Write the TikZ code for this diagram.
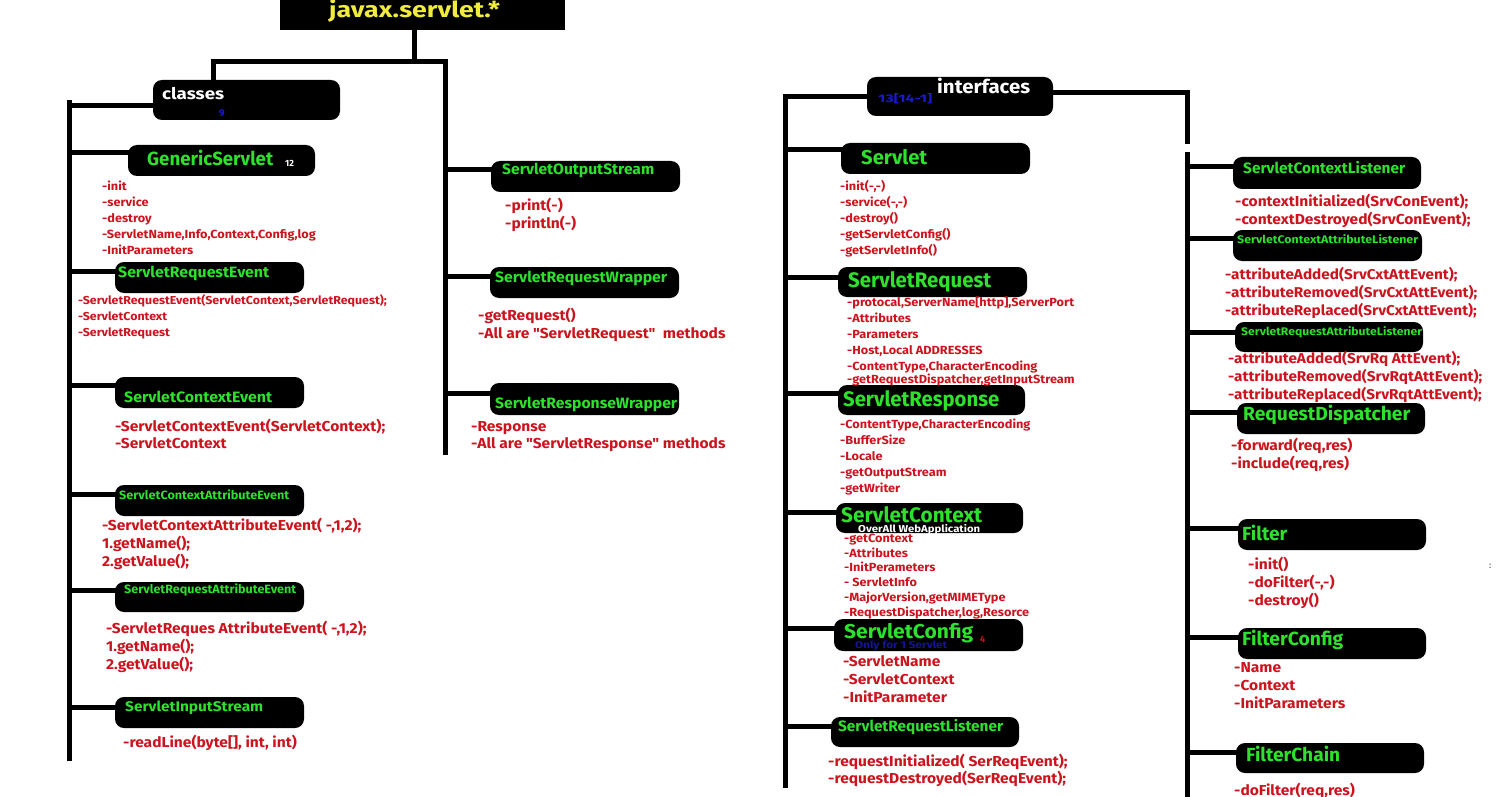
\documentclass[tikz,border=0pt]{standalone}
\usepackage{fontspec}
\setmainfont{Fira Sans}
\newfontfamily\mfont{Fira Sans}[FakeStretch=1.08]
\usetikzlibrary{fit}
\definecolor{mred}{RGB}{203,20,30}
\definecolor{mgreen}{RGB}{45,225,45}
\definecolor{myellow}{RGB}{240,235,60}
\definecolor{mblue}{RGB}{25,25,205}
\definecolor{mnavy}{RGB}{20,20,150}
\newcommand\lw[2]{\resizebox{#1pt}{\height}{#2}}
\tikzset{
  conn/.style={line width=5pt, black, line cap=rect},
  boxs/.style={fill=black, rounded corners=9pt, inner sep=0pt},
  lbl/.style={inner sep=0pt, anchor=base west, text=mgreen, font=\bfseries\fontsize{#1}{#1}\selectfont},
  mth/.style 2 args={inner sep=0pt, anchor=base west, align=left, text=mred, font=\mfont\bfseries\fontsize{#1}{#2}\selectfont},
}
\begin{document}
\begin{tikzpicture}[x=1pt,y=-1pt]
\fill[white] (0,0) rectangle (1500,797);
\useasboundingbox (0,0) rectangle (1500,797);

% ---------- boxes ----------
\node[fill=black, inner sep=0pt, fit={(280,0) (565,30)}] (jx) {};
\node[boxs, fit={(153,80) (340,120)}] (cls) {};
\node[boxs, fit={(128,145) (315,176)}] (gs) {};
\node[boxs, fit={(115,262) (304,293)}] (sre) {};
\node[boxs, fit={(115,377) (304,408)}] (sce) {};
\node[boxs, fit={(115,485) (304,516)}] (scae) {};
\node[boxs, fit={(115,582) (304,612)}] (srae) {};
\node[boxs, fit={(115,697) (304,728)}] (sis) {};
\node[boxs, fit={(491,161) (680,192)}] (sos) {};
\node[boxs, fit={(490,267) (679,298)}] (srw) {};
\node[boxs, fit={(490,383) (679,415)}] (srspw) {};
\node[boxs, fit={(867,77) (1053,116)}] (ifc) {};
\node[boxs, fit={(841,143) (1030,174)}] (svt) {};
\node[boxs, fit={(838,267) (1027,297)}] (sreq) {};
\node[boxs, fit={(838,385) (1025,415)}] (sresp) {};
\node[boxs, fit={(836,503) (1023,533)}] (sctx) {};
\node[boxs, fit={(834,619) (1023,651)}] (scfg) {};
\node[boxs, fit={(831,717) (1019,747)}] (srl) {};
\node[boxs, fit={(1233,157) (1421,189)}] (scl) {};
\node[boxs, fit={(1233,230) (1422,261)}] (scal) {};
\node[boxs, fit={(1235,322) (1423,352)}] (sral) {};
\node[boxs, fit={(1237,403) (1425,434)}] (rd) {};
\node[boxs, fit={(1238,519) (1426,550)}] (flt) {};
\node[boxs, fit={(1238,628) (1426,659)}] (fcfg) {};
\node[boxs, fit={(1236,743) (1424,773)}] (fch) {};

% ---------- trunk coordinates ----------
\coordinate (barL) at (213,62);
\coordinate (barR) at (445,62);
\coordinate (cT) at (69,103);
\coordinate (cB) at (69,758);
\coordinate (rB) at (445,452);
\coordinate (iT) at (785,97);
\coordinate (iB) at (785,785);
\coordinate (jT) at (1187,93);
\coordinate (jM) at (1187,142);
\coordinate (kT) at (1187,155);
\coordinate (kB) at (1187,797);

% ---------- connectors ----------
\draw[conn] (jx.south -| 414,0) -- (414,62);
\draw[conn] (barL) -- (barR) -- (rB);
\draw[conn] (barL) -- (barL |- cls.north);
\draw[conn] (cT) -- (cB);
\draw[conn] (69,106) -- (cls.west |- 0,106);
\foreach \n/\y in {gs/153, sre/271, sce/385, scae/494, srae/590, sis/707}
  \draw[conn] (69,\y) -- (\n.west |- 0,\y);
\foreach \n/\y in {sos/170, srw/276, srspw/393}
  \draw[conn] (445,\y) -- (\n.west |- 0,\y);
\draw[conn] (iT) -- (iB);
\draw[conn] (iT) -- (ifc.west |- iT);
\draw[conn] (ifc.east |- jT) -- (jT) -- (jM);
\draw[conn] (kT) -- (kB);
\foreach \n/\y in {svt/150, sreq/277, sresp/393, sctx/512, scfg/628, srl/726}
  \draw[conn] (785,\y) -- (\n.west |- 0,\y);
\foreach \n/\y in {scl/167, scal/238, sral/332, rd/412, flt/528, fcfg/637, fch/752}
  \draw[conn] (1187,\y) -- (\n.west |- 0,\y);

% ---------- box labels ----------
\node[lbl=22, text=myellow] (tjx) at (329,18) {\lw{171}{javax.servlet.*}};
\node[lbl=16, text=white] (tcls) at (162,100) {\lw{62}{classes}};
\node[lbl=10, text=mblue] (t9) at (219,117) {9};
\node[lbl=19] (tgs) at (147,165) {\lw{126}{GenericServlet}};
\node[lbl=9, text=white] (t12) at (285,167) {12};
\node[lbl=15] (tsre) at (118,277) {\lw{151}{ServletRequestEvent}};
\node[lbl=15] (tsce) at (124,402) {\lw{148}{ServletContextEvent}};
\node[lbl=12] (tscae) at (119,499) {\lw{170}{ServletContextAttributeEvent}};
\node[lbl=12] (tsrae) at (124,593) {\lw{172}{ServletRequestAttributeEvent}};
\node[lbl=14] (tsis) at (125,711) {\lw{138}{ServletInputStream}};
\node[lbl=15] (tsos) at (502,175) {\lw{152}{ServletOutputStream}};
\node[lbl=15] (tsrw) at (495,282) {\lw{172}{ServletRequestWrapper}};
\node[lbl=15] (tsrspw) at (495,408) {\lw{182}{ServletResponseWrapper}};
\node[lbl=19, text=white] (tifc) at (937,94) {\lw{93}{interfaces}};
\node[lbl=11, text=mblue] (t13) at (878,103) {\lw{54}{13[14-1]}};
\node[lbl=20] (tsvt) at (861,165) {\lw{66}{Servlet}};
\node[lbl=21] (tsreq) at (848,287) {\lw{143}{ServletRequest}};
\node[lbl=21] (tsresp) at (843,406) {\lw{156}{ServletResponse}};
\node[lbl=21] (tsctx) at (841,522) {\lw{141}{ServletContext}};
\node[lbl=10, text=white] (tow) at (858,532) {\lw{122}{OverAll WebApplication}};
\node[lbl=20] (tscfg) at (844,638) {\lw{129}{ServletConfig}};
\node[lbl=9, text=mred] (t4) at (980,642) {4};
\node[lbl=10, text=mnavy] (tonly) at (855,648) {\lw{92}{Only for 1 Servlet}};
\node[lbl=15] (tsrl) at (838,731) {\lw{165}{ServletRequestListener}};
\node[lbl=15] (tscl) at (1243,173) {\lw{162}{ServletContextListener}};
\node[lbl=11] (tscal) at (1237,243) {\lw{181}{ServletContextAttributeListener}};
\node[lbl=11] (tsral) at (1241,335) {\lw{181}{ServletRequestAttributeListener}};
\node[lbl=19] (trd) at (1243,420) {\lw{167}{RequestDispatcher}};
\node[lbl=19] (tflt) at (1242,540) {\lw{45}{Filter}};
\node[lbl=19] (tfcfg) at (1242,645) {\lw{101}{FilterConfig}};
\node[lbl=19] (tfch) at (1246,761) {\lw{94}{FilterChain}};
\node[lbl=9, text=gray] (tdot) at (1489,568) {:};

% ---------- member lists (anchor = baseline of last line) ----------
\node[mth={11.8}{16}] (mgs) at (102,254.3) {-init\\-service\\-destroy\\-ServletName,Info,Context,Config,log\\-InitParameters};
\node[mth={11.5}{16}] (msre) at (78,336.3) {-ServletRequestEvent(ServletContext,ServletRequest);\\-ServletContext\\-ServletRequest};
\node[mth={14.4}{17}] (msce) at (115,448) {-ServletContextEvent(ServletContext);\\-ServletContext};
\node[mth={14.4}{18}] (mscae) at (102,566) {-ServletContextAttributeEvent( -,1,2);\\1.getName();\\2.getValue();};
\node[mth={14.4}{18}] (msrae) at (106,669) {-ServletReques AttributeEvent( -,1,2);\\1.getName();\\2.getValue();};
\node[mth={14.4}{18}] (msis) at (123,747) {-readLine(byte[], int, int)};
\node[mth={14.4}{18}] (msos) at (505,229) {-print(-)\\-println(-)};
\node[mth={14.4}{18}] (msrw) at (478,338) {-getRequest()\\-All are "ServletRequest"\ \ methods};
\node[mth={14.4}{17}] (msrspw) at (471,448) {-Response\\-All are "ServletResponse" methods};
\node[mth={11.8}{16}] (msvt) at (840,254.3) {-init(-,-)\\-service(-,-)\\-destroy()\\-getServletConfig()\\-getServletInfo()};
\node[mth={11.8}{16}] (msreq) at (847,370.3) {-protocal,ServerName[http],ServerPort\\-Attributes\\-Parameters\\-Host,Local ADDRESSES\\-ContentType,CharacterEncoding};
\node[mth={11.8}{16}] (msreq2) at (847,383.3) {-getRequestDispatcher,getInputStream};
\node[mth={11.8}{16}] (msresp) at (840,492.3) {-ContentType,CharacterEncoding\\-BufferSize\\-Locale\\-getOutputStream\\-getWriter};
\node[mth={11.8}{14.8}] (msctx) at (844,616.3) {-getContext\\-Attributes\\-InitPerameters\\- ServletInfo\\-MajorVersion,getMIMEType\\-RequestDispatcher,log,Resorce};
\node[mth={14.4}{18}] (mscfg) at (843,702) {-ServletName\\-ServletContext\\-InitParameter};
\node[mth={14.4}{17.5}] (msrl) at (828,783.5) {-requestInitialized( SerReqEvent);\\-requestDestroyed(SerReqEvent);};
\node[mth={14.4}{18}] (mscl) at (1235,224) {-contextInitialized(SrvConEvent);\\-contextDestroyed(SrvConEvent);};
\node[mth={14.2}{18}] (mscal) at (1225,315) {-attributeAdded(SrvCxtAttEvent);\\-attributeRemoved(SrvCxtAttEvent);\\-attributeReplaced(SrvCxtAttEvent);};
\node[mth={14.2}{18}] (msral) at (1228,399) {-attributeAdded(SrvRq AttEvent);\\-attributeRemoved(SrvRqtAttEvent);\\-attributeReplaced(SrvRqtAttEvent);};
\node[mth={14.4}{18}] (mrd) at (1231,468) {-forward(req,res)\\-include(req,res)};
\node[mth={14.4}{18}] (mflt) at (1248,605) {-init()\\-doFilter(-,-)\\-destroy()};
\node[mth={14.4}{18}] (mfcfg) at (1234,708) {-Name\\-Context\\-InitParameters};
\node[mth={14.4}{18}] (mfch) at (1234,795) {-doFilter(req,res)};
\end{tikzpicture}
\end{document}
